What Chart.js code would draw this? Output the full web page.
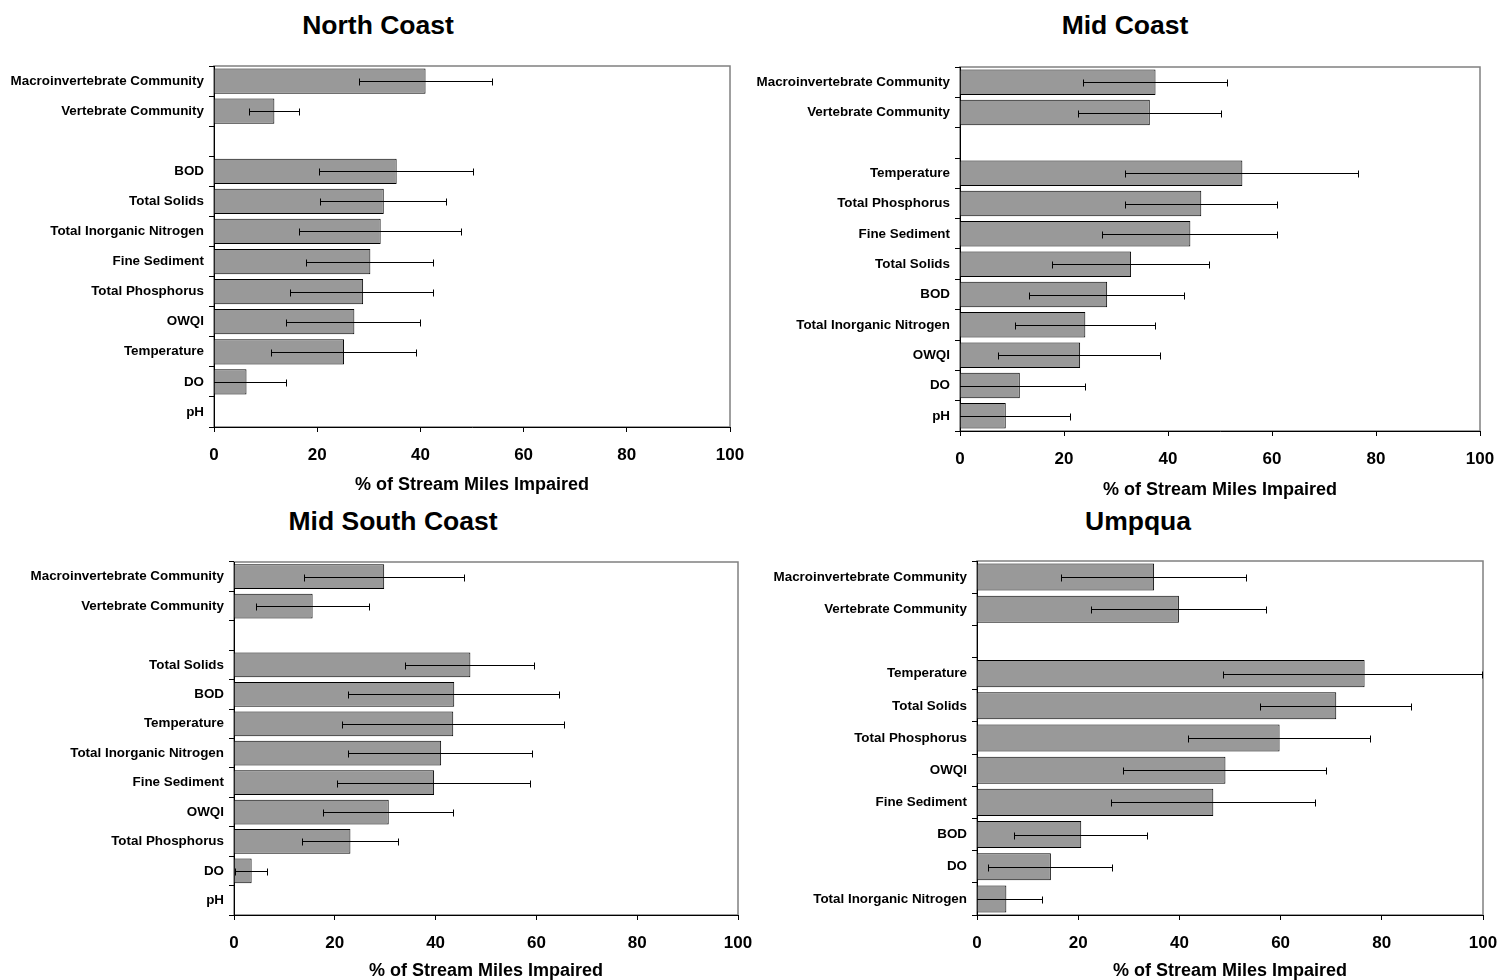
<!DOCTYPE html>
<html>
<head>
<meta charset="utf-8">
<script src="https://cdn.jsdelivr.net/npm/chart.js@4.4.1/dist/chart.umd.min.js"></script>
<style>
  body { margin: 0; background: #fff; width: 1498px; height: 980px; position: relative; overflow: hidden; }
  .panel { position: absolute; }
  .title { position: absolute; width: 400px; text-align: center; font: bold 26.5px 'Liberation Sans', Arial, sans-serif; line-height: 30px; color: #000; }
</style>
</head>
<body>
<div class="title" style="left:178px;top:10px">North Coast</div>
<div class="title" style="left:925px;top:10px">Mid Coast</div>
<div class="title" style="left:193px;top:506px">Mid South Coast</div>
<div class="title" style="left:938px;top:506px">Umpqua</div>

<div class="panel" style="left:0px;top:0px;width:776px;height:499px"><canvas id="chart1"></canvas></div>
<div class="panel" style="left:752px;top:0px;width:776px;height:502px"><canvas id="chart2"></canvas></div>
<div class="panel" style="left:0px;top:500px;width:786px;height:482px"><canvas id="chart3"></canvas></div>
<div class="panel" style="left:760px;top:500px;width:768px;height:482px"><canvas id="chart4"></canvas></div>

<script>
// 값 (% of stream miles impaired), 빈 칸은 그룹 사이 간격
// North Coast
var ncLabels = ['Macroinvertebrate Community', 'Vertebrate Community', '', 'BOD', 'Total Solids', 'Total Inorganic Nitrogen', 'Fine Sediment', 'Total Phosphorus', 'OWQI', 'Temperature', 'DO', 'pH'];
var ncValues = [41.0, 11.7, null, 35.4, 32.9, 32.3, 30.3, 28.9, 27.2, 25.2, 6.3, 0];
var ncLow    = [28.1, 6.7, null, 20.4, 20.6, 16.4, 17.8, 14.8, 14.0, 11.1, -1.5, null];
var ncHigh   = [54.0, 16.7, null, 50.4, 45.1, 48.1, 42.7, 42.7, 40.2, 39.3, 14.1, null];

// Mid Coast
var mcLabels = ['Macroinvertebrate Community', 'Vertebrate Community', '', 'Temperature', 'Total Phosphorus', 'Fine Sediment', 'Total Solids', 'BOD', 'Total Inorganic Nitrogen', 'OWQI', 'DO', 'pH'];
var mcValues = [37.6, 36.5, null, 54.3, 46.4, 44.3, 32.9, 28.3, 24.1, 23.1, 11.5, 8.8];
var mcLow    = [23.6, 22.6, null, 31.7, 31.7, 27.4, 17.6, 13.3, 10.5, 7.4, -1.3, -3.7];
var mcHigh   = [51.6, 50.4, null, 76.7, 61.1, 61.1, 48.0, 43.2, 37.6, 38.6, 24.3, 21.3];

// Mid South Coast
var mscLabels = ['Macroinvertebrate Community', 'Vertebrate Community', '', 'Total Solids', 'BOD', 'Temperature', 'Total Inorganic Nitrogen', 'Fine Sediment', 'OWQI', 'Total Phosphorus', 'DO', 'pH'];
var mscValues = [29.8, 15.6, null, 46.9, 43.7, 43.5, 41.1, 39.7, 30.7, 23.1, 3.5, 0];
var mscLow    = [13.8, 4.4, null, 33.9, 22.6, 21.5, 22.6, 20.5, 17.7, 13.5, 0.2, null];
var mscHigh   = [45.9, 26.9, null, 59.7, 64.6, 65.6, 59.4, 59.0, 43.6, 32.7, 6.8, null];

// Umpqua
var umLabels = ['Macroinvertebrate Community', 'Vertebrate Community', '', 'Temperature', 'Total Solids', 'Total Phosphorus', 'OWQI', 'Fine Sediment', 'BOD', 'DO', 'Total Inorganic Nitrogen'];
var umValues = [35.0, 39.9, null, 76.6, 71.0, 59.8, 49.1, 46.7, 20.6, 14.6, 5.8];
var umLow    = [16.6, 22.5, null, 48.7, 56.0, 41.7, 28.9, 26.4, 7.3, 2.2, -1.4];
var umHigh   = [53.4, 57.3, null, 100, 86.0, 77.9, 69.1, 66.9, 33.8, 26.9, 13.0];

var xTicks = [0, 20, 40, 60, 80, 100];
var axisTitle = '% of Stream Miles Impaired';

Chart.defaults.font.family = "'Liberation Sans', Arial, sans-serif";
Chart.defaults.color = '#000';

// 플롯 테두리 (회색)
var framePlugin = {
  id: 'frame',
  beforeDraw: function(chart) {
    var a = chart.chartArea, ctx = chart.ctx;
    ctx.save();
    ctx.strokeStyle = '#808080';
    ctx.lineWidth = 1.5;
    ctx.strokeRect(a.left, a.top, a.right - a.left, a.bottom - a.top);
    ctx.restore();
  }
};

// 오차 막대
var errorBarPlugin = {
  id: 'errorBars',
  afterDatasetsDraw: function(chart, args, opts) {
    var ctx = chart.ctx, a = chart.chartArea, xs = chart.scales.x;
    var meta = chart.getDatasetMeta(0);
    ctx.save();
    ctx.beginPath();
    ctx.rect(a.left, a.top - 5, a.right - a.left + 1, a.bottom - a.top + 10);
    ctx.clip();
    ctx.strokeStyle = '#000';
    ctx.lineWidth = 1;
    meta.data.forEach(function(bar, i) {
      var lo = opts.low[i], hi = opts.high[i];
      if (lo == null || hi == null) return;
      var y = Math.round(bar.y) + 0.5;
      var x1 = Math.round(xs.getPixelForValue(lo)) + 0.5;
      var x2 = Math.round(xs.getPixelForValue(hi)) - 0.5;
      ctx.beginPath();
      ctx.moveTo(x1, y); ctx.lineTo(x2, y);
      ctx.moveTo(x1, y - 3); ctx.lineTo(x1, y + 4);
      ctx.moveTo(x2, y - 3); ctx.lineTo(x2, y + 4);
      ctx.stroke();
    });
    ctx.restore();
  }
};

function makePanel(id, labels, values, low, high, g) {
  var ctx = document.getElementById(id).getContext('2d');
  return new Chart(ctx, {
    type: 'bar',
    data: {
      labels: labels,
      datasets: [{
        data: values,
        backgroundColor: '#999999',
        borderColor: '#000',
        borderWidth: 1,
        categoryPercentage: 0.84,
        barPercentage: 1
      }]
    },
    options: {
      indexAxis: 'y',
      responsive: true,
      maintainAspectRatio: false,
      animation: false,
      layout: { padding: { top: g.padTop, right: g.padRight, left: 0, bottom: 0 } },
      plugins: {
        legend: { display: false },
        tooltip: { enabled: false },
        errorBars: { low: low, high: high }
      },
      scales: {
        x: {
          min: 0,
          max: 100,
          afterBuildTicks: function(scale) {
            scale.ticks = xTicks.map(function(v) { return { value: v }; });
          },
          afterFit: function(scale) { scale.height = g.xHeight; },
          ticks: { font: { size: 17, weight: 'bold' }, color: '#000', padding: 13 },
          grid: { drawOnChartArea: false, tickLength: 5, color: '#000' },
          border: { color: '#000', width: 1 },
          title: {
            display: true,
            text: axisTitle,
            font: { size: 18, weight: 'bold' },
            color: '#000',
            padding: { top: 0, bottom: g.titlePad }
          }
        },
        y: {
          afterFit: function(scale) { scale.width = g.yWidth; },
          ticks: { font: { size: 13.4, weight: 'bold' }, color: '#000', padding: 5, autoSkip: false },
          grid: { drawOnChartArea: false, tickLength: 5, offset: true, color: '#000' },
          border: { color: '#000', width: 1 }
        }
      }
    },
    plugins: [framePlugin, errorBarPlugin]
  });
}

makePanel('chart1', ncLabels, ncValues, ncLow, ncHigh, { padTop: 66, padRight: 46, yWidth: 214, xHeight: 72, titlePad: 3 });
makePanel('chart2', mcLabels, mcValues, mcLow, mcHigh, { padTop: 67, padRight: 48, yWidth: 208, xHeight: 71, titlePad: 1 });
makePanel('chart3', mscLabels, mscValues, mscLow, mscHigh, { padTop: 62, padRight: 48, yWidth: 234, xHeight: 67, titlePad: 0 });
makePanel('chart4', umLabels, umValues, umLow, umHigh, { padTop: 61, padRight: 45, yWidth: 217, xHeight: 67, titlePad: 0 });
</script>
</body>
</html>
